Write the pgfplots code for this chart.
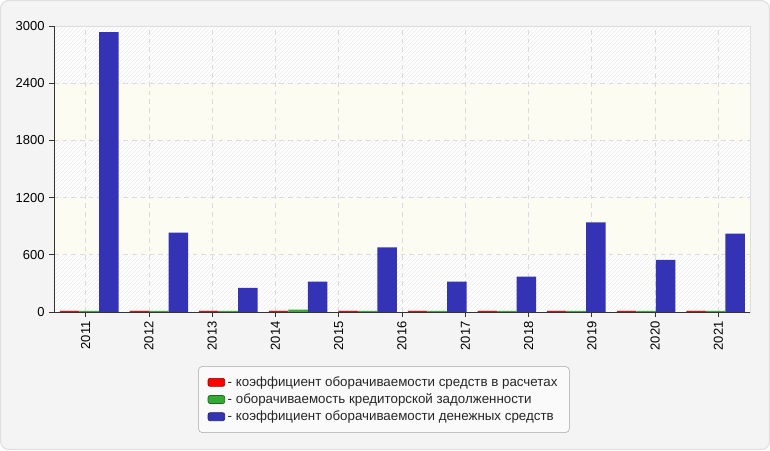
\documentclass[border=0pt]{standalone}
\usepackage{pgfplots}
\pgfplotsset{compat=1.18}
\usepackage{fontspec}
\setmainfont{Liberation Sans}
\usetikzlibrary{patterns}
\definecolor{cred}{RGB}{255,0,0}
\definecolor{cgreen}{RGB}{51,170,51}
\definecolor{cblue}{RGB}{53,51,181}
\definecolor{bandy}{RGB}{252,252,243}
\definecolor{outerbg}{RGB}{244,244,244}
\begin{document}
\begin{tikzpicture}[x=1pt,y=1pt]
\fill[outerbg, draw=black!12, line width=0.8pt, rounded corners=6pt] (0.4,0.4) rectangle (577.1,337.1);
% plot-area background bands (axis at (40.5,103.5), 522 x 214.5)
\fill[white] (40.5,103.5) rectangle (562.5,318);
\fill[pattern=north east lines, pattern color=black!8] (40.5,103.5) rectangle (562.5,146.4);
\fill[bandy] (40.5,146.4) rectangle (562.5,189.3);
\fill[pattern=north east lines, pattern color=black!8] (40.5,189.3) rectangle (562.5,232.2);
\fill[bandy] (40.5,232.2) rectangle (562.5,275.1);
\fill[pattern=north east lines, pattern color=black!8] (40.5,275.1) rectangle (562.5,318);
\begin{axis}[
  at={(40.5pt,103.5pt)}, anchor=south west,
  scale only axis, width=522pt, height=214.5pt,
  xmin=0, xmax=10, ymin=0, ymax=3000,
  ytick={0,600,1200,1800,2400,3000},
  xtick={0.4545,1.3636,2.2727,3.1818,4.0909,5.0,5.9091,6.8182,7.7273,8.6364,9.5455},
  xticklabels={2011,2012,2013,2014,2015,2016,2017,2018,2019,2020,2021},
  scaled y ticks=false,
  /pgf/number format/1000 sep={},
  /pgf/number format/assume math mode=true,
  x tick label style={rotate=90, anchor=east, font=\fontsize{9.75}{11}\selectfont},
  y tick label style={font=\fontsize{9.75}{11}\selectfont},
  tick align=outside, major tick length=3.5pt,
  xtick pos=left, ytick pos=left,
  tick style={black!80, line width=0.6pt},
  grid=major,
  major grid style={dash pattern=on 3.5pt off 3pt, black!14, line width=0.6pt},
  axis line style={black!13, line width=0.6pt},
  legend style={at={(0.474,-0.306)}, anchor=center, draw=black!35, rounded corners=3pt,
    fill=white!98!black, font=\fontsize{10}{11}\selectfont, text=black!85,
    row sep=0pt, inner xsep=7pt, inner ysep=5.5pt, cells={anchor=west}},
]
\addplot[ybar, bar width=0.28, fill=cred, draw=none, forget plot] coordinates {
(0.226,12) (1.226,12) (2.226,12) (3.226,12) (4.226,12) (5.226,12) (6.226,12) (7.226,12) (8.226,12) (9.226,12)};
\addplot[ybar, bar width=0.28, fill=cgreen, draw=none, forget plot] coordinates {
(0.506,12) (1.506,12) (2.506,12) (3.506,25) (4.506,12) (5.506,12) (6.506,12) (7.506,12) (8.506,12) (9.506,12)};
\addplot[ybar, bar width=0.28, fill=cblue, draw=none, forget plot] coordinates {
(0.787,2937) (1.787,832) (2.787,252) (3.787,319) (4.787,677) (5.787,319) (6.787,372) (7.787,940) (8.787,547) (9.787,821)};

\draw[black!80, line width=0.7pt] (rel axis cs:0,1) -- (rel axis cs:0,0) -- (rel axis cs:1,0);

\addlegendimage{legend image code/.code={\draw[fill=cred, draw=cred!60!black, line width=0.5pt, rounded corners=1.5pt] (0pt,-3pt) rectangle (12.5pt,3pt);}}
\addlegendentry{- коэффициент оборачиваемости средств в расчетах}
\addlegendimage{legend image code/.code={\draw[fill=cgreen, draw=cgreen!60!black, line width=0.5pt, rounded corners=1.5pt] (0pt,-3pt) rectangle (12.5pt,3pt);}}
\addlegendentry{- оборачиваемость кредиторской задолженности}
\addlegendimage{legend image code/.code={\draw[fill=cblue, draw=cblue!60!black, line width=0.5pt, rounded corners=1.5pt] (0pt,-3pt) rectangle (12.5pt,3pt);}}
\addlegendentry{- коэффициент оборачиваемости денежных средств}
\end{axis}
\end{tikzpicture}
\end{document}
